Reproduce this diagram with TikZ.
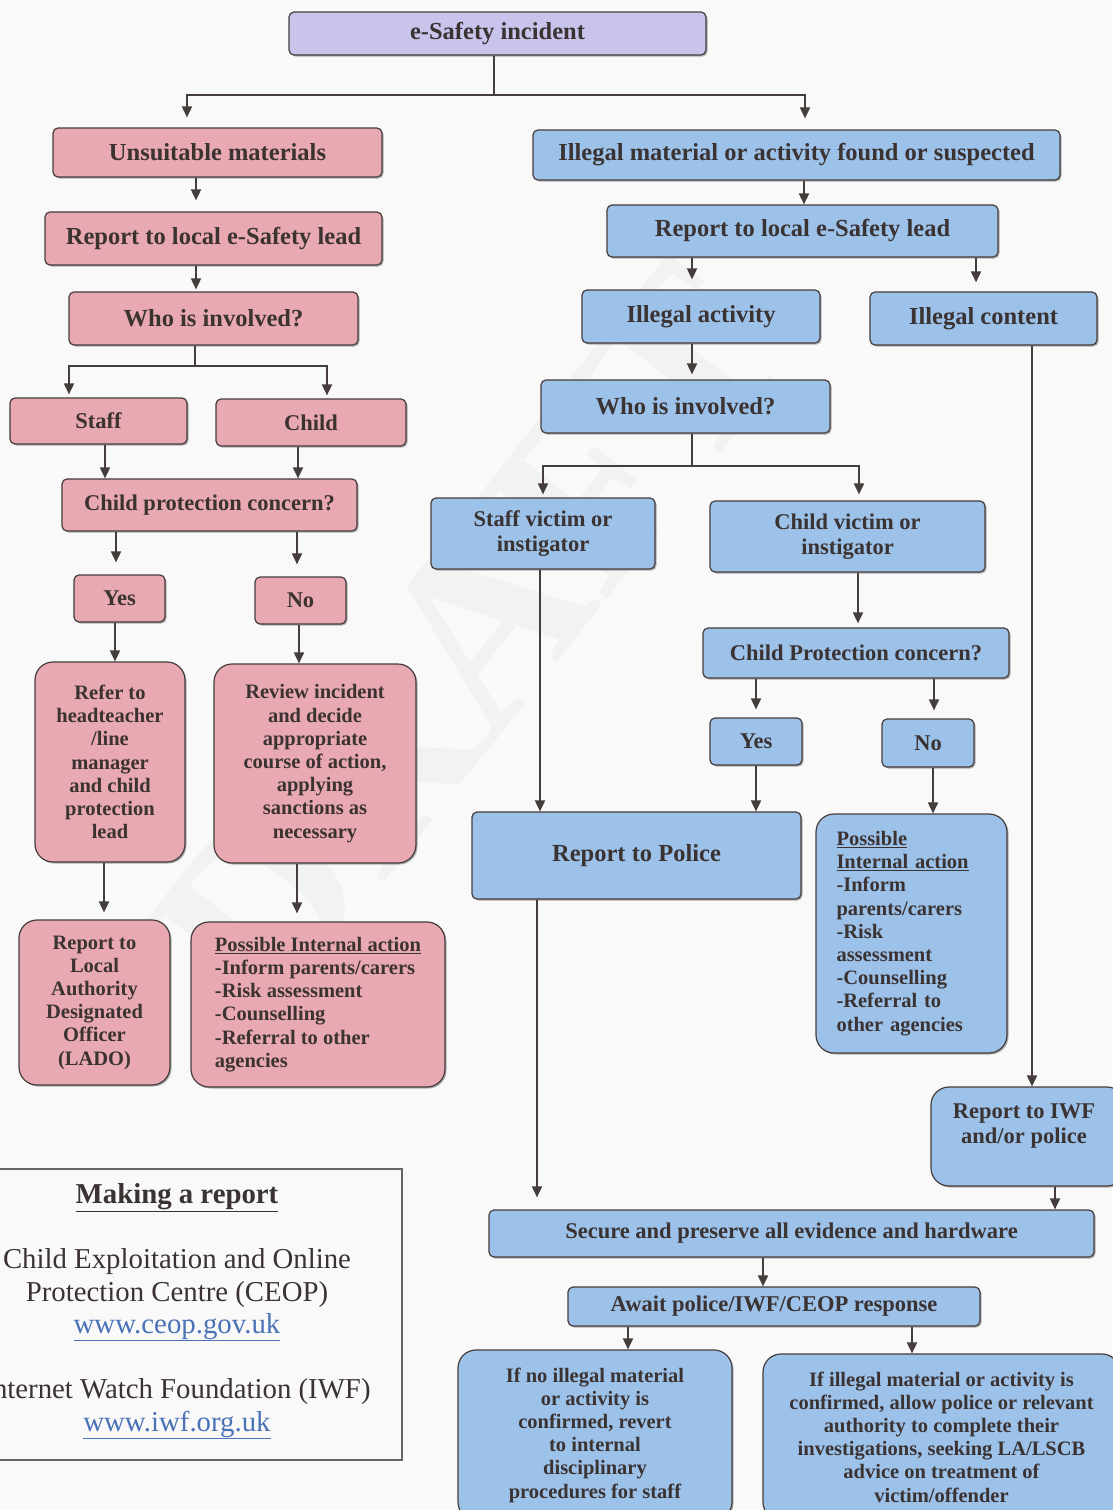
\documentclass[tikz,border=0pt]{standalone}
\usepackage{fontspec}
\setmainfont{Liberation Serif}
\usetikzlibrary{arrows.meta,shadows}
\definecolor{pinkc}{HTML}{E8A9B2}
\definecolor{bluec}{HTML}{9CC2EA}
\definecolor{lavc}{HTML}{C8C4EC}
\definecolor{lc}{HTML}{453C3C}
\definecolor{tc}{HTML}{3B3232}
\definecolor{linkc}{HTML}{4A72B6}
\definecolor{paper}{HTML}{FAF9F9}
\newcommand\placebox[7]{\node[#1, minimum width={#5-#3}, minimum height={#6-#4}] (#2) at ({(#3+#5)/2},{(#4+#6)/2}) {#7};}
\tikzset{
  base/.style={draw=lc, line width=1.2pt, rounded corners=5pt, inner sep=0pt, text=tc, align=center,
    drop shadow={shadow xshift=1.5pt, shadow yshift=-1.5pt, opacity=0.3, fill=black}},
  pinkbox/.style={base, fill=pinkc},
  bluebox/.style={base, fill=bluec},
  lavbox/.style={base, fill=lavc},
  roundbig/.style={rounded corners=18pt},
  bigtxt/.style={font=\fontsize{24.5}{29}\selectfont\bfseries},
  midtxt/.style={font=\fontsize{22.5}{25}\selectfont\bfseries},
  smltxt/.style={font=\fontsize{20.5}{23.2}\selectfont\bfseries},
  ln/.style={draw=lc, line width=1.8pt},
  arr/.style={ln, -{Triangle[width=10pt,length=11pt]}},
  reptxt/.style={font=\fontsize{28.8}{33}\selectfont, text=tc, inner sep=0pt, anchor=base},
  linktxt/.style={font=\fontsize{28.8}{33}\selectfont, text=linkc, inner sep=0pt, anchor=base},
}
\begin{document}
\begin{tikzpicture}[x=1pt,y=-1pt]
\fill[paper] (0,0) rectangle (1112,1510);
\useasboundingbox (0,0) rectangle (1112,1510);
\node[font=\fontsize{250}{250}\selectfont\bfseries, text=black!5, rotate=52] (wm) at (470,640) {DRAFT};
% top
\placebox{lavbox,bigtxt}{inc}{289}{12}{706}{55}{e-Safety incident}
% left (pink)
\placebox{pinkbox,bigtxt}{unsuit}{53}{128}{382}{177}{Unsuitable materials}
\placebox{pinkbox,bigtxt}{rep1}{45}{212}{382}{265}{Report to local e-Safety lead}
\placebox{pinkbox,bigtxt}{who1}{69}{292}{358}{345}{Who is involved?}
\placebox{pinkbox,midtxt}{staff}{10}{398}{187}{444}{Staff}
\placebox{pinkbox,midtxt}{child}{216}{399}{406}{446}{Child}
\placebox{pinkbox,midtxt}{cpc1}{62}{479}{357}{531}{Child protection concern?}
\placebox{pinkbox,midtxt}{yes1}{74}{575}{165}{622}{Yes}
\placebox{pinkbox,midtxt}{no1}{255}{577}{346}{624}{No}
\placebox{pinkbox,smltxt,roundbig}{refer}{35}{662}{185}{862}{Refer to\\headteacher\\/line\\manager\\and child\\protection\\lead}
\placebox{pinkbox,smltxt,roundbig}{review}{214}{664}{416}{863}{Review incident\\and decide\\appropriate\\course of action,\\applying\\sanctions as\\necessary}
\placebox{pinkbox,smltxt,roundbig}{lado}{19}{920}{170}{1085}{Report to\\Local\\Authority\\Designated\\Officer\\(LADO)}
\placebox{pinkbox,smltxt,roundbig,align=left}{pia1}{191}{922}{445}{1087}{\underline{Possible Internal action}\\-Inform parents/carers\\-Risk assessment\\-Counselling\\-Referral to other\\agencies}
% right (blue)
\placebox{bluebox,bigtxt}{illmat}{533}{130}{1060}{180}{Illegal material or activity found or suspected}
\placebox{bluebox,bigtxt}{rep2}{607}{205}{998}{257}{Report to local e-Safety lead}
\placebox{bluebox,bigtxt}{illact}{582}{290}{820}{343}{Illegal activity}
\placebox{bluebox,bigtxt}{illcont}{870}{292}{1097}{345}{Illegal content}
\placebox{bluebox,bigtxt}{who2}{541}{380}{830}{433}{Who is involved?}
\placebox{bluebox,midtxt}{staffv}{431}{498}{655}{569}{Staff victim or\\instigator}
\placebox{bluebox,midtxt}{childv}{710}{501}{985}{572}{Child victim or\\instigator}
\placebox{bluebox,midtxt}{cpc2}{703}{628}{1009}{678}{Child Protection concern?}
\placebox{bluebox,midtxt}{yes2}{710}{718}{802}{765}{Yes}
\placebox{bluebox,midtxt}{no2}{882}{719}{974}{767}{No}
\placebox{bluebox,bigtxt}{police}{472}{812}{801}{899}{Report to Police}
\placebox{bluebox,smltxt,roundbig,align=left,text width=150pt}{pia2}{816}{814}{1007}{1053}{\underline{Possible}\\\underline{Internal action}\\-Inform\\parents/carers\\-Risk\\assessment\\-Counselling\\-Referral to\\other agencies}
\placebox{bluebox,roundbig}{iwf}{931}{1087}{1125}{1186}{}
\node[midtxt, text=tc, align=center, inner sep=0pt, anchor=north] (iwftxt) at ([yshift=-17pt]iwf.north -| 1024,0) {Report to IWF\\and/or police};
\placebox{bluebox,midtxt}{secure}{489}{1210}{1094}{1257}{Secure and preserve all evidence and hardware}
\placebox{bluebox,midtxt}{await}{568}{1287}{980}{1326}{Await police/IWF/CEOP response}
\placebox{bluebox,smltxt,roundbig}{nobox}{458}{1350}{732}{1520}{If no illegal material\\or activity is\\confirmed, revert\\to internal\\disciplinary\\procedures for staff}
\placebox{bluebox,smltxt,roundbig}{yesbox}{763}{1354}{1120}{1520}{If illegal material or activity is\\confirmed, allow police or relevant\\authority to complete their\\investigations, seeking LA/LSCB\\advice on treatment of\\victim/offender}
% making a report
\node[draw=lc!80, line width=1.3pt, inner sep=0pt, minimum width=422pt, minimum height=291pt] (mrbox) at (191,1314.5) {};
\node[reptxt, font=\fontsize{28.8}{33}\selectfont\bfseries] (mrtitle) at (177,1203) {\underline{Making a report}};
\node[reptxt] (ceop1) at (177,1268) {Child Exploitation and Online};
\node[reptxt] (ceop2) at (177,1301) {Protection Centre (CEOP)};
\node[linktxt] (ceopurl) at (177,1333) {\underline{www.ceop.gov.uk}};
\node[reptxt] (iwf1) at (177,1398) {Internet Watch Foundation (IWF)};
\node[linktxt] (iwfurl) at (177,1431) {\underline{www.iwf.org.uk}};
% connectors left
\coordinate (tj) at (494,95);
\draw[ln] (inc.south -| tj) -- (tj);
\draw[arr, shorten >=10pt] (tj) -| (unsuit.north -| 187,0);
\draw[arr, shorten >=11pt] (tj) -| (illmat.north -| 805,0);
\draw[arr, shorten >=11pt] (unsuit.south -| 196,0) -- (rep1.north -| 196,0);
\draw[arr, shorten >=2pt] (rep1.south -| 196,0) -- (who1.north -| 196,0);
\coordinate (lj) at (195,366);
\draw[ln] (who1.south -| lj) -- (lj);
\draw[arr, shorten >=3pt] (lj) -| (staff.north -| 69,0);
\draw[arr, shorten >=3pt] (lj) -| (child.north -| 327,0);
\draw[arr] (staff.south -| 105,0) -- (cpc1.north -| 105,0);
\draw[arr] (child.south -| 298,0) -- (cpc1.north -| 298,0);
\draw[arr, shorten >=12pt] (cpc1.south -| 116,0) -- (yes1.north -| 116,0);
\draw[arr, shorten >=12pt] (cpc1.south -| 297,0) -- (no1.north -| 297,0);
\draw[arr] (yes1.south -| 115,0) -- (refer.north -| 115,0);
\draw[arr] (no1.south -| 299,0) -- (review.north -| 299,0);
\draw[arr, shorten >=7pt] (refer.south -| 104,0) -- (lado.north -| 104,0);
\draw[arr, shorten >=8pt] (review.south -| 297,0) -- (pia1.north -| 297,0);
% connectors right
\draw[arr] (illmat.south -| 804,0) -- (rep2.north -| 804,0);
\draw[arr, shorten >=10pt] (rep2.south -| 692,0) -- (illact.north -| 692,0);
\draw[arr, shorten >=9pt] (rep2.south -| 976,0) -- (illcont.north -| 976,0);
\draw[arr, shorten >=5pt] (illact.south -| 692,0) -- (who2.north -| 692,0);
\coordinate (rj) at (692,466);
\draw[ln] (who2.south -| rj) -- (rj);
\draw[arr, shorten >=3pt] (rj) -| (staffv.north -| 543,0);
\draw[arr, shorten >=6pt] (rj) -| (childv.north -| 859,0);
\draw[arr] (staffv.south -| 540,0) -- (police.north -| 540,0);
\draw[arr, shorten >=4pt] (childv.south -| 858,0) -- (cpc2.north -| 858,0);
\draw[arr, shorten >=8pt] (cpc2.south -| 756,0) -- (yes2.north -| 756,0);
\draw[arr, shorten >=8pt] (cpc2.south -| 934,0) -- (no2.north -| 934,0);
\draw[arr] (yes2.south -| 756,0) -- (police.north -| 756,0);
\draw[arr] (no2.south -| 933,0) -- (pia2.north -| 933,0);
\draw[arr] (illcont.south -| 1032,0) -- (iwf.north -| 1032,0);
\draw[arr] (iwf.south -| 1055,0) -- (secure.north -| 1055,0);
\draw[arr, shorten >=12pt] (police.south -| 537,0) -- (secure.north -| 537,0);
\draw[arr] (secure.south -| 763,0) -- (await.north -| 763,0);
\draw[arr] (await.south -| 628,0) -- (nobox.north -| 628,0);
\draw[arr] (await.south -| 912,0) -- (yesbox.north -| 912,0);
\end{tikzpicture}
\end{document}
